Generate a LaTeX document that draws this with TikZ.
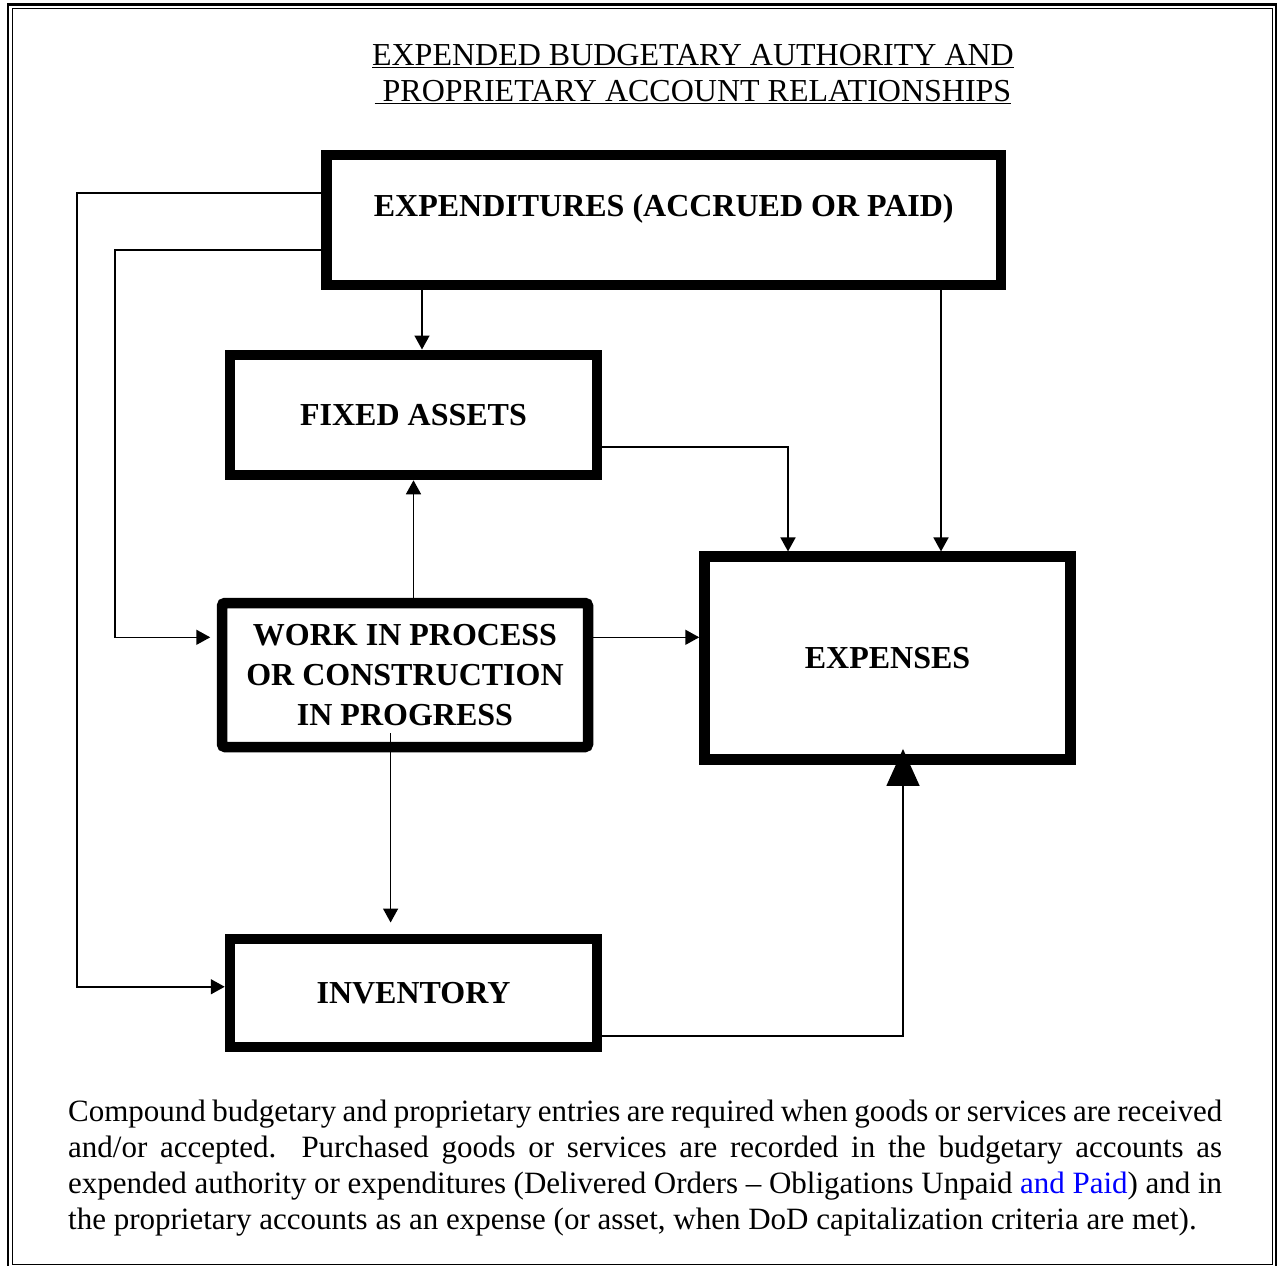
\documentclass[tikz,border=0pt]{standalone}
\usepackage{fontspec}
\setmainfont{Liberation Serif}
\usetikzlibrary{arrows.meta, positioning}
\definecolor{linkblue}{RGB}{0, 0, 255}

\begin{document}
\begin{tikzpicture}[x=1pt, y=-1pt, >={Triangle[length=14pt, width=15pt]}]
  \tikzset{acct/.style={draw, line width=10.5pt, inner sep=0pt, align=center, font=\bfseries\fontsize{32}{40}\selectfont},
           flow/.style={->, line width=1.6pt}}
  \useasboundingbox (0,0) rectangle (1278,1266);
  % page frame
  \draw[line width=2.5pt] (8,4.5) rectangle (1276,1268);
  \draw[line width=1pt] (12,8.5) rectangle (1272,1264.5);
  \node[anchor=base, inner sep=0pt, font=\fontsize{32}{36}\selectfont] (title) at (693,65) {\parbox[t]{720pt}{\centering\underline{EXPENDED BUDGETARY AUTHORITY AND}\\\underline{\ PROPRIETARY ACCOUNT RELATIONSHIPS}}};
  % accounts
  \node[acct, minimum width=674.5pt, minimum height=130pt, text height=20pt, text depth=27pt] (exp) at (663.75,220) {EXPENDITURES (ACCRUED OR PAID)};
  \node[acct, minimum width=367pt, minimum height=120.3pt] (fa) at (413.5,414.9) {FIXED ASSETS};
  \node[acct, rounded corners=3pt, minimum width=366pt, minimum height=144pt] (wip) at (405,675) {WORK IN PROCESS\\OR CONSTRUCTION\\IN PROGRESS};
  \node[acct, minimum width=366pt, minimum height=203pt] (expenses) at (887.5,658.2) {EXPENSES};
  \node[acct, minimum width=367pt, minimum height=108pt, below=453.2pt of fa] (inv) {INVENTORY};
  % expenditures
  \draw[flow] ([xshift=8.5pt]fa.north |- exp.south) -- ([xshift=8.5pt]fa.north);
  \draw[flow] ([xshift=53.5pt]expenses.north |- exp.south) -- ([xshift=53.5pt]expenses.north);
  \draw[flow] ([yshift=27pt]exp.west) -| ([xshift=-147.75pt, yshift=6pt]inv.west) -- ([yshift=6pt]inv.west);
  \draw[flow, shorten >=6.5pt] ([yshift=-30pt]exp.west) -| ([xshift=-101.75pt, yshift=37.7pt]wip.west) -- ([yshift=37.7pt]wip.west);
  % fixed assets
  \draw[flow] ([yshift=-31.8pt]fa.east) -| ([xshift=-99.5pt]expenses.north);
  % work in process
  \draw[flow] (wip.north -| fa.south) -- (fa.south);
  \draw[flow] ([yshift=37.7pt]wip.east) -- ([yshift=37.7pt]wip.east -| expenses.west);
  \draw[flow] ([xshift=-14.4pt, yshift=19pt]wip.south) -- ([xshift=-22.9pt, yshift=11pt]inv.north);
  % inventory
  \draw[line width=1.6pt, -{Triangle[length=37pt, width=33pt]}] ([yshift=-43pt]inv.east) -| ([xshift=15.5pt, yshift=16pt]expenses.south);
  \node[anchor=base west, inner sep=0pt, font=\fontsize{31}{36}\selectfont] (note) at (68,1121) {\parbox[t]{1154pt}{Compound budgetary and proprietary entries are required when goods or services are received\linebreak and/or accepted.  Purchased goods or services are recorded in the budgetary accounts as\linebreak expended authority or expenditures (Delivered Orders – Obligations Unpaid \textcolor{linkblue}{and Paid}) and in\linebreak the proprietary accounts as an expense (or asset, when DoD capitalization criteria are met).}};
\end{tikzpicture}
\end{document}
